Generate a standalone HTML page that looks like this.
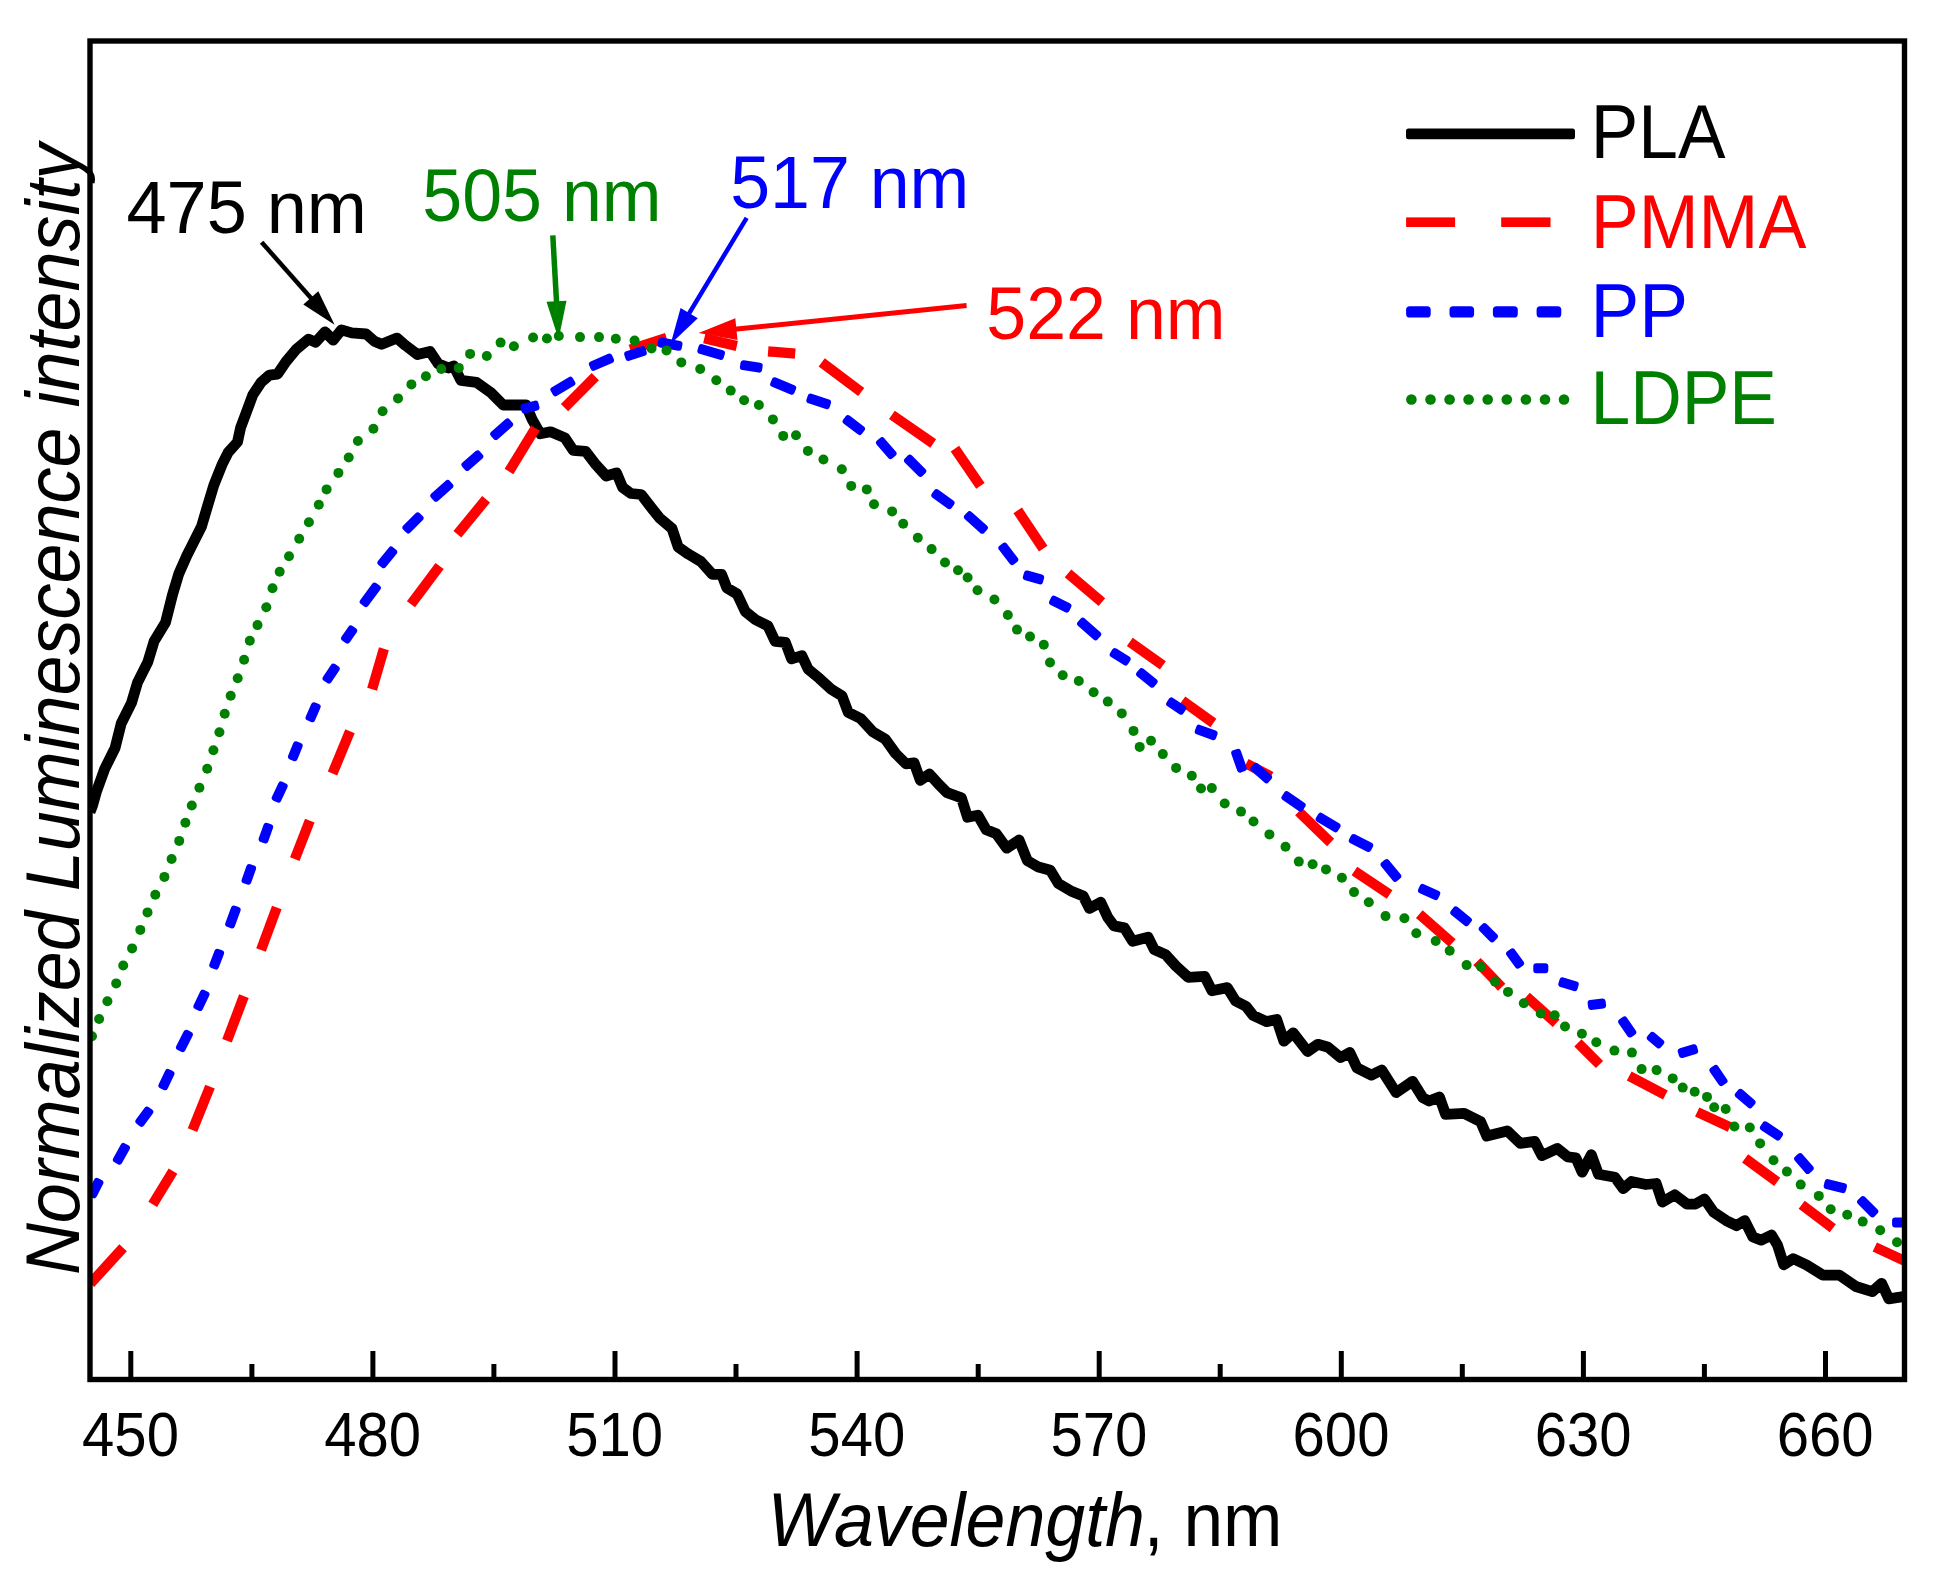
<!DOCTYPE html>
<html lang="en"><head><meta charset="utf-8"><title>Normalized luminescence intensity vs wavelength</title>
<style>html,body{margin:0;padding:0;background:#fff}body{width:1946px;height:1579px;overflow:hidden}svg{display:block}text{font-family:"Liberation Sans",Arial,sans-serif}</style>
</head><body>
<svg width="1946" height="1579" viewBox="0 0 1946 1579">
<rect width="1946" height="1579" fill="#fff"/>
<defs><clipPath id="plot"><rect x="90" y="41" width="1814.5" height="1338.5"/></clipPath><filter id="soft" filterUnits="userSpaceOnUse" x="0" y="0" width="1946" height="1579"><feGaussianBlur stdDeviation="0.7"/></filter></defs>
<g filter="url(#soft)">
<g clip-path="url(#plot)">
<polyline fill="none" stroke="#000" stroke-width="10.8" stroke-linejoin="round" stroke-linecap="butt" points="90,812 92.4,805.9 96.5,791.5 104.7,768.8 115,748.2 121.2,723.5 131.5,702.9 137.6,682.3 147.9,661.8 154.1,641.2 165.5,622.5 172.6,594.4 178.8,573.8 187,555.3 201.5,526.5 207.6,505.9 213.8,485.3 222,464.7 228.2,452.3 237.5,442 240.6,427.6 246.8,411.2 252.9,394.7 261.2,382.3 269.4,375.1 277.6,374.1 285.9,361.8 296.2,349.4 308.5,339.1 315.7,342.2 325,331.9 333.2,340.1 341.4,329.9 351.7,332.9 366.2,334 374.4,341.2 381.6,344.3 397,338.1 405.3,345.3 417.6,354.6 430,351.5 438.2,363.8 448.5,368 453.7,365.9 460.9,380.3 476.5,382.3 490.9,392.6 503.2,405 525.9,405 532.1,419.4 540.3,433.8 550.6,431.8 565,437.9 573.2,450.3 585.6,451.3 595.9,464.7 606.2,476 616.5,472.9 622.6,487.3 630.9,493.5 641.2,494.5 651.5,507.9 659.7,518.2 672,528.5 678.2,547 688.5,554.2 700.9,561.5 712.4,574.4 721.6,574.4 726.8,587.8 737.1,594 745.3,611.5 755.6,619.7 767.9,625.9 775.1,641.3 785.4,642.3 791.6,658.8 801.9,655.7 808.1,669.1 819.4,678.4 831.8,689.7 842,695.9 848.2,712.3 860.6,718.5 872.9,731.9 885.3,739.1 895.6,753.5 905.9,763.8 914.1,762.8 920.3,780.3 929.5,774.1 938.8,784.4 947,792.6 961.4,797.8 967.6,817.3 977.9,815.3 986.2,829.7 996.4,833.8 1006.7,848.2 1019.1,840 1027.3,860.6 1037.6,866.7 1050.3,870.3 1058.5,883.7 1070.9,890.9 1083.2,896 1089.4,908.4 1100.7,902.2 1107.9,917.6 1114.1,925.9 1124.4,927.9 1132.6,941.3 1148.1,937.2 1154.3,949.6 1165.6,954.7 1175.9,966 1188.2,977.3 1204.7,976.3 1211.9,990.7 1227.3,987.6 1235.6,1001 1245.9,1006.2 1253.1,1015.4 1266.5,1021.6 1276.7,1019.5 1283.9,1041.2 1293.2,1032.9 1307.6,1051.5 1317.9,1044.3 1328.2,1047.3 1340.6,1057.6 1349.8,1052.5 1357,1067.9 1371.4,1075.1 1381.7,1070 1396.1,1092.6 1412.6,1081.3 1422.9,1097.8 1429.1,1101 1439.4,1096.9 1445.6,1114.4 1464.1,1113.4 1480.6,1121.6 1486.8,1136 1507.3,1130.9 1520.3,1143.4 1534.7,1141.3 1541.9,1155.7 1557.3,1148.5 1567.6,1156.8 1575.9,1157.8 1582.1,1172.2 1591.3,1154.7 1598.5,1174.3 1615,1177.3 1623.2,1188.7 1631.5,1181.5 1645.9,1184.5 1656.2,1183.5 1662.3,1202 1674.7,1194.8 1687,1204.1 1695.3,1204.1 1704.5,1199 1713.8,1212.3 1726.2,1220.6 1736.5,1225.7 1744.7,1220.6 1752.9,1237 1761.2,1240.1 1771.5,1235 1777.6,1245.3 1783.8,1264.8 1793.1,1258.7 1806.4,1264.8 1822.9,1275.1 1839.4,1275.1 1855.9,1286.5 1872.3,1291.6 1881.6,1283.4 1888.8,1298.8 1903.2,1296.7"/>
<g stroke="#ff0000" stroke-width="10.2" stroke-linecap="butt">
<line x1="90.4" y1="1283.5" x2="123.1" y2="1247.7"/>
<line x1="152.7" y1="1204.3" x2="173" y2="1171.1"/>
<line x1="192.5" y1="1130.1" x2="210" y2="1086.7"/>
<line x1="227" y1="1040.7" x2="243.9" y2="996.1"/>
<line x1="261" y1="950.1" x2="276.8" y2="907.5"/>
<line x1="294.8" y1="859.1" x2="309.8" y2="820.6"/>
<line x1="332.5" y1="773.5" x2="350" y2="731.2"/>
<line x1="372.1" y1="689.2" x2="383.9" y2="648.7"/>
<line x1="411" y1="604.3" x2="439.6" y2="566"/>
<line x1="457.4" y1="534.2" x2="486.1" y2="499.2"/>
<line x1="509" y1="471.5" x2="535.5" y2="428.1"/>
<line x1="564.5" y1="407.6" x2="595.3" y2="376.7"/>
<line x1="630.2" y1="349.6" x2="666.6" y2="337.9"/>
<line x1="704.3" y1="338.3" x2="736.8" y2="346"/>
<line x1="768.1" y1="351.4" x2="795.2" y2="353.6"/>
<line x1="821.7" y1="362.4" x2="861.2" y2="392"/>
<line x1="891.9" y1="414.9" x2="933.2" y2="443.5"/>
<line x1="954.9" y1="448.7" x2="980.4" y2="485.9"/>
<line x1="1017.7" y1="510.4" x2="1043.2" y2="548.7"/>
<line x1="1068" y1="573.3" x2="1101.9" y2="602.1"/>
<line x1="1129.8" y1="641.9" x2="1162.9" y2="665.4"/>
<line x1="1182.3" y1="700.6" x2="1213.4" y2="723"/>
<line x1="1246.2" y1="763.5" x2="1271" y2="776.5"/>
<line x1="1298.7" y1="811.7" x2="1330.6" y2="842.5"/>
<line x1="1354.4" y1="871.1" x2="1389.6" y2="894.5"/>
<line x1="1419.3" y1="914.2" x2="1452.3" y2="943"/>
<line x1="1477" y1="961.5" x2="1501.7" y2="987.3"/>
<line x1="1526.4" y1="996.5" x2="1556.2" y2="1023.3"/>
<line x1="1577.9" y1="1042.9" x2="1599.5" y2="1064.5"/>
<line x1="1629.2" y1="1076" x2="1665.4" y2="1095.1"/>
<line x1="1697.2" y1="1112" x2="1729.9" y2="1127.2"/>
<line x1="1745.1" y1="1158.4" x2="1777.2" y2="1181.9"/>
<line x1="1801.7" y1="1204.7" x2="1832.8" y2="1228.2"/>
<line x1="1874.8" y1="1247" x2="1904.8" y2="1261"/>
</g>
<g fill="#0000ff">
<rect x="85.5" y="1183.2" width="20" height="10" rx="3" transform="rotate(-63.2 95.4 1188.2)"/>
<rect x="110.6" y="1148.8" width="21.6" height="10" rx="3" transform="rotate(-61 121.4 1153.8)"/>
<rect x="134" y="1111.7" width="20.7" height="10" rx="3" transform="rotate(-53.7 144.3 1116.7)"/>
<rect x="156" y="1074.7" width="21" height="10" rx="3" transform="rotate(-64.6 166.4 1079.7)"/>
<rect x="173.3" y="1036" width="22.3" height="10" rx="3" transform="rotate(-63.3 184.4 1041)"/>
<rect x="191" y="995.4" width="21" height="10" rx="3" transform="rotate(-64.6 201.4 1000.4)"/>
<rect x="206.5" y="954.1" width="20.3" height="10" rx="3" transform="rotate(-69.3 216.7 959.1)"/>
<rect x="221.7" y="912" width="22.5" height="10" rx="3" transform="rotate(-69.8 232.9 917)"/>
<rect x="238.7" y="869.4" width="20.2" height="10" rx="3" transform="rotate(-70.5 248.8 874.4)"/>
<rect x="255.8" y="828.1" width="20.2" height="10" rx="3" transform="rotate(-70.5 265.9 833.1)"/>
<rect x="269.2" y="787" width="20.9" height="10" rx="3" transform="rotate(-64.9 279.7 792)"/>
<rect x="285.7" y="746.3" width="19.3" height="10" rx="3" transform="rotate(-68.1 295.3 751.3)"/>
<rect x="303.3" y="707.2" width="19.5" height="10" rx="3" transform="rotate(-66.3 313.1 712.2)"/>
<rect x="321.1" y="668.6" width="20.1" height="10" rx="3" transform="rotate(-56.2 331.1 673.6)"/>
<rect x="340.2" y="629.5" width="17.9" height="10" rx="3" transform="rotate(-55.2 349.1 634.5)"/>
<rect x="357.3" y="589.9" width="26" height="10" rx="3" transform="rotate(-53.5 370.2 594.9)"/>
<rect x="375.9" y="552.4" width="22.9" height="10" rx="3" transform="rotate(-50.9 387.3 557.4)"/>
<rect x="401.3" y="517.9" width="23.4" height="10" rx="3" transform="rotate(-45.2 413 522.9)"/>
<rect x="429.3" y="485.9" width="25.1" height="10" rx="3" transform="rotate(-41.4 441.8 490.9)"/>
<rect x="460.6" y="455.6" width="23.5" height="10" rx="3" transform="rotate(-41.1 472.4 460.6)"/>
<rect x="489.2" y="424.2" width="24.9" height="10" rx="3" transform="rotate(-41.3 501.6 429.2)"/>
<rect x="520.7" y="402.1" width="18.5" height="10" rx="3" transform="rotate(-14 530 407.1)"/>
<rect x="550.1" y="381.5" width="25.6" height="10" rx="3" transform="rotate(-30.8 562.9 386.5)"/>
<rect x="588.9" y="357.2" width="25.1" height="10" rx="3" transform="rotate(-23.3 601.5 362.2)"/>
<rect x="624.4" y="348.5" width="22.2" height="10" rx="3" transform="rotate(-17.6 635.5 353.5)"/>
<rect x="657.7" y="339.2" width="24.6" height="10" rx="3" transform="rotate(10.3 670 344.2)"/>
<rect x="697.5" y="347" width="27.3" height="10" rx="3" transform="rotate(16.3 711.1 352)"/>
<rect x="740.1" y="361.4" width="22.4" height="10" rx="3" transform="rotate(8.6 751.3 366.4)"/>
<rect x="770.2" y="381" width="26" height="10" rx="3" transform="rotate(22.4 783.2 386)"/>
<rect x="806.5" y="396.4" width="24.4" height="10" rx="3" transform="rotate(18.4 818.7 401.4)"/>
<rect x="842" y="420.1" width="23.6" height="10" rx="3" transform="rotate(37.4 853.9 425.1)"/>
<rect x="874.5" y="443.2" width="23.5" height="10" rx="3" transform="rotate(48.9 886.3 448.2)"/>
<rect x="902.7" y="460.8" width="24.9" height="10" rx="3" transform="rotate(45 915.1 465.8)"/>
<rect x="930.7" y="494.2" width="24.4" height="10" rx="3" transform="rotate(35.9 943 499.2)"/>
<rect x="962.7" y="517.4" width="26.4" height="10" rx="3" transform="rotate(41.7 975.9 522.4)"/>
<rect x="996.5" y="548.8" width="23.6" height="10" rx="3" transform="rotate(52.6 1008.3 553.8)"/>
<rect x="1023.1" y="572.4" width="20.8" height="10" rx="3" transform="rotate(15.7 1033.5 577.4)"/>
<rect x="1049.1" y="599.1" width="22.3" height="10" rx="3" transform="rotate(26.7 1060.2 604.1)"/>
<rect x="1075.9" y="624" width="26.5" height="10" rx="3" transform="rotate(41.4 1089.2 629)"/>
<rect x="1109.6" y="651.8" width="21.1" height="10" rx="3" transform="rotate(32 1120.2 656.8)"/>
<rect x="1135.5" y="672.9" width="22.7" height="10" rx="3" transform="rotate(39 1146.9 677.9)"/>
<rect x="1166.1" y="701.1" width="20.2" height="10" rx="3" transform="rotate(33.6 1176.2 706.1)"/>
<rect x="1194.9" y="727.4" width="22.5" height="10" rx="3" transform="rotate(20.2 1206.1 732.4)"/>
<rect x="1227.3" y="755.7" width="23.4" height="10" rx="3" transform="rotate(70.7 1239 760.7)"/>
<rect x="1249.4" y="768.1" width="23.5" height="10" rx="3" transform="rotate(41.1 1261.2 773.1)"/>
<rect x="1280.9" y="796.4" width="25.3" height="10" rx="3" transform="rotate(34.4 1293.6 801.4)"/>
<rect x="1315.3" y="817.5" width="25.6" height="10" rx="3" transform="rotate(31 1328.1 822.5)"/>
<rect x="1348.7" y="838" width="24.6" height="10" rx="3" transform="rotate(26.6 1361 843)"/>
<rect x="1378.8" y="865.4" width="24.3" height="10" rx="3" transform="rotate(50.6 1390.9 870.4)"/>
<rect x="1418.1" y="887" width="22" height="10" rx="3" transform="rotate(24 1429.1 892)"/>
<rect x="1449.7" y="911.2" width="22.8" height="10" rx="3" transform="rotate(38.9 1461 916.2)"/>
<rect x="1478" y="927.7" width="20.6" height="10" rx="3" transform="rotate(45 1488.3 932.7)"/>
<rect x="1504.7" y="953.5" width="20.8" height="10" rx="3" transform="rotate(53.9 1515.1 958.5)"/>
<rect x="1533.3" y="963.2" width="15" height="10" rx="3" transform="rotate(0 1540.8 968.2)"/>
<rect x="1558.6" y="979.2" width="19.9" height="10" rx="3" transform="rotate(16.5 1568.5 984.2)"/>
<rect x="1587.8" y="999.2" width="18.1" height="10" rx="3" transform="rotate(-7.3 1596.9 1004.2)"/>
<rect x="1616.5" y="1021.9" width="21.5" height="10" rx="3" transform="rotate(55.4 1627.2 1026.9)"/>
<rect x="1646.7" y="1035.2" width="17.6" height="10" rx="3" transform="rotate(39.9 1655.6 1040.2)"/>
<rect x="1678" y="1046.1" width="19.9" height="10" rx="3" transform="rotate(-16.5 1688 1051.1)"/>
<rect x="1707.7" y="1070.5" width="21.6" height="10" rx="3" transform="rotate(55.6 1718.4 1075.5)"/>
<rect x="1734.2" y="1093.6" width="22" height="10" rx="3" transform="rotate(41 1745.2 1098.6)"/>
<rect x="1759.5" y="1126" width="23.9" height="10" rx="3" transform="rotate(33.8 1771.5 1131)"/>
<rect x="1792.9" y="1158.5" width="22.1" height="10" rx="3" transform="rotate(49.2 1803.9 1163.5)"/>
<rect x="1823.9" y="1181.1" width="22.8" height="10" rx="3" transform="rotate(14.2 1835.3 1186.1)"/>
<rect x="1856" y="1201.7" width="23.4" height="10" rx="3" transform="rotate(45 1867.7 1206.7)"/>
<rect x="1892.1" y="1217.6" width="12.9" height="10" rx="3" transform="rotate(0 1898.6 1222.6)"/>
</g>
<g fill="#008000">
<circle cx="92" cy="1036.3" r="5"/>
<circle cx="99.1" cy="1019" r="5"/>
<circle cx="107.4" cy="1001.3" r="5"/>
<circle cx="116.2" cy="983.4" r="5"/>
<circle cx="123.2" cy="965.5" r="5"/>
<circle cx="132.1" cy="948.4" r="5"/>
<circle cx="140.3" cy="929.9" r="5"/>
<circle cx="147.5" cy="912.4" r="5"/>
<circle cx="155.3" cy="894.8" r="5"/>
<circle cx="164.4" cy="876.9" r="5"/>
<circle cx="171.6" cy="859" r="5"/>
<circle cx="179.2" cy="840.9" r="5"/>
<circle cx="185.4" cy="822.7" r="5"/>
<circle cx="191.8" cy="805.5" r="5"/>
<circle cx="199.4" cy="787.8" r="5"/>
<circle cx="207.2" cy="768.8" r="5"/>
<circle cx="213.4" cy="750.3" r="5"/>
<circle cx="219.4" cy="732.2" r="5"/>
<circle cx="224.7" cy="713.8" r="5"/>
<circle cx="230.7" cy="695.7" r="5"/>
<circle cx="237.7" cy="678.2" r="5"/>
<circle cx="244.1" cy="659.7" r="5"/>
<circle cx="249.8" cy="640.8" r="5"/>
<circle cx="257.5" cy="625.1" r="5"/>
<circle cx="266.3" cy="607.2" r="5"/>
<circle cx="272.5" cy="588.2" r="5"/>
<circle cx="279.7" cy="571.7" r="5"/>
<circle cx="289" cy="556.3" r="5"/>
<circle cx="299.2" cy="538.8" r="5"/>
<circle cx="308.9" cy="522.3" r="5"/>
<circle cx="318.8" cy="504.8" r="5"/>
<circle cx="326.6" cy="489.4" r="5"/>
<circle cx="338.4" cy="472.9" r="5"/>
<circle cx="348.7" cy="457.5" r="5"/>
<circle cx="357.9" cy="441" r="5"/>
<circle cx="373.4" cy="428.7" r="5"/>
<circle cx="382.6" cy="411.2" r="5"/>
<circle cx="398" cy="398.4" r="5"/>
<circle cx="411.4" cy="384.4" r="5"/>
<circle cx="425.9" cy="376.2" r="5"/>
<circle cx="441.3" cy="369" r="5"/>
<circle cx="458.8" cy="367.9" r="5"/>
<circle cx="470.1" cy="353.9" r="5"/>
<circle cx="486.8" cy="356" r="5"/>
<circle cx="500.6" cy="342.6" r="5"/>
<circle cx="513.9" cy="346.3" r="5"/>
<circle cx="533.1" cy="337.5" r="5"/>
<circle cx="546.9" cy="338.5" r="5"/>
<circle cx="558.8" cy="336" r="5"/>
<circle cx="580" cy="337.1" r="5"/>
<circle cx="599" cy="337.1" r="5"/>
<circle cx="615.8" cy="338.7" r="5"/>
<circle cx="634.6" cy="340.6" r="5"/>
<circle cx="651.5" cy="348.4" r="5"/>
<circle cx="666.5" cy="350.4" r="5"/>
<circle cx="681.3" cy="362.4" r="5"/>
<circle cx="700.2" cy="369" r="5"/>
<circle cx="716.3" cy="380.3" r="5"/>
<circle cx="730.7" cy="390.6" r="5"/>
<circle cx="744.1" cy="400.3" r="5"/>
<circle cx="758.9" cy="405" r="5"/>
<circle cx="772.9" cy="419.4" r="5"/>
<circle cx="783.2" cy="435.9" r="5"/>
<circle cx="796" cy="435.3" r="5"/>
<circle cx="807.9" cy="450.9" r="5"/>
<circle cx="823.4" cy="459.5" r="5"/>
<circle cx="841.8" cy="469.2" r="5"/>
<circle cx="851.2" cy="485.9" r="5"/>
<circle cx="866.8" cy="489.4" r="5"/>
<circle cx="874" cy="504.2" r="5"/>
<circle cx="892.1" cy="511.4" r="5"/>
<circle cx="903.2" cy="523.8" r="5"/>
<circle cx="917.8" cy="537.8" r="5"/>
<circle cx="931.6" cy="549.1" r="5"/>
<circle cx="945" cy="562.5" r="5"/>
<circle cx="958" cy="570.3" r="5"/>
<circle cx="967.6" cy="577.5" r="5"/>
<circle cx="977.5" cy="590.3" r="5"/>
<circle cx="994.4" cy="599.5" r="5"/>
<circle cx="1007.8" cy="615" r="5"/>
<circle cx="1017" cy="629.6" r="5"/>
<circle cx="1030" cy="636.6" r="5"/>
<circle cx="1043.8" cy="644.8" r="5"/>
<circle cx="1050" cy="662.5" r="5"/>
<circle cx="1062.7" cy="675.3" r="5"/>
<circle cx="1078.8" cy="681" r="5"/>
<circle cx="1093.6" cy="692.2" r="5"/>
<circle cx="1107.8" cy="701.6" r="5"/>
<circle cx="1121.8" cy="713.4" r="5"/>
<circle cx="1133.5" cy="730.9" r="5"/>
<circle cx="1139.7" cy="746.9" r="5"/>
<circle cx="1151" cy="740.8" r="5"/>
<circle cx="1162.8" cy="754.1" r="5"/>
<circle cx="1176.1" cy="767.9" r="5"/>
<circle cx="1191.8" cy="775.7" r="5"/>
<circle cx="1201" cy="788.5" r="5"/>
<circle cx="1211.8" cy="788.1" r="5"/>
<circle cx="1224.7" cy="803.5" r="5"/>
<circle cx="1241" cy="811.6" r="5"/>
<circle cx="1253.5" cy="821.5" r="5"/>
<circle cx="1269.4" cy="834.4" r="5"/>
<circle cx="1285.5" cy="846.8" r="5"/>
<circle cx="1298.8" cy="861.6" r="5"/>
<circle cx="1312.6" cy="864.3" r="5"/>
<circle cx="1326" cy="869.4" r="5"/>
<circle cx="1341.9" cy="877.7" r="5"/>
<circle cx="1354" cy="892.1" r="5"/>
<circle cx="1368.8" cy="902.3" r="5"/>
<circle cx="1385.5" cy="916.1" r="5"/>
<circle cx="1404.4" cy="918.2" r="5"/>
<circle cx="1416.3" cy="933.2" r="5"/>
<circle cx="1435.7" cy="941" r="5"/>
<circle cx="1449.7" cy="950.7" r="5"/>
<circle cx="1466.6" cy="965.1" r="5"/>
<circle cx="1481" cy="966.8" r="5"/>
<circle cx="1495" cy="981.6" r="5"/>
<circle cx="1508" cy="991.9" r="5"/>
<circle cx="1523.8" cy="1003.2" r="5"/>
<circle cx="1540.7" cy="1013.5" r="5"/>
<circle cx="1554.7" cy="1015.2" r="5"/>
<circle cx="1565" cy="1026.5" r="5"/>
<circle cx="1581.9" cy="1033.7" r="5"/>
<circle cx="1596.3" cy="1042.3" r="5"/>
<circle cx="1614.4" cy="1050.6" r="5"/>
<circle cx="1631.9" cy="1052.6" r="5"/>
<circle cx="1641.6" cy="1069.1" r="5"/>
<circle cx="1656.6" cy="1070.1" r="5"/>
<circle cx="1672.7" cy="1078.4" r="5"/>
<circle cx="1682.7" cy="1087.6" r="5"/>
<circle cx="1694.7" cy="1091.7" r="5"/>
<circle cx="1707" cy="1096.9" r="5"/>
<circle cx="1714.2" cy="1107.2" r="5"/>
<circle cx="1725.7" cy="1109" r="5"/>
<circle cx="1734.4" cy="1126.5" r="5"/>
<circle cx="1749.8" cy="1127.5" r="5"/>
<circle cx="1760.1" cy="1143.4" r="5"/>
<circle cx="1773.5" cy="1160.3" r="5"/>
<circle cx="1786.9" cy="1171.6" r="5"/>
<circle cx="1800.7" cy="1184.6" r="5"/>
<circle cx="1818.8" cy="1195.9" r="5"/>
<circle cx="1830.7" cy="1209.3" r="5"/>
<circle cx="1847.2" cy="1214.8" r="5"/>
<circle cx="1862.7" cy="1221.6" r="5"/>
<circle cx="1880.2" cy="1230.3" r="5"/>
<circle cx="1897" cy="1242.2" r="5"/>
</g>
</g>
<line x1="261.6" y1="242.2" x2="312.1" y2="299.3" stroke="#000" stroke-width="4.5"/>
<polygon fill="#000" points="334.6,324.8 303.3,304.4 318.3,291.2"/>
<line x1="552.8" y1="235.4" x2="556.6" y2="303.3" stroke="#008000" stroke-width="5.5"/>
<polygon fill="#008000" points="558.6,339.2 546.5,301.8 566.5,300.7"/>
<line x1="746.7" y1="217.8" x2="688.2" y2="314.9" stroke="#0000ff" stroke-width="4.5"/>
<polygon fill="#0000ff" points="670.6,344 680.6,308 697.8,318.3"/>
<line x1="966.6" y1="305.5" x2="734.4" y2="329.3" stroke="#ff0000" stroke-width="5"/>
<polygon fill="#ff0000" points="698.6,333 735.3,318.2 737.5,340.1"/>
<rect x="90" y="41" width="1814.5" height="1338.5" fill="none" stroke="#000" stroke-width="5.4"/>
<g stroke="#000" stroke-width="5">
<line x1="130.8" y1="1379" x2="130.8" y2="1351"/>
<line x1="372.9" y1="1379" x2="372.9" y2="1351"/>
<line x1="615" y1="1379" x2="615" y2="1351"/>
<line x1="857.1" y1="1379" x2="857.1" y2="1351"/>
<line x1="1099.2" y1="1379" x2="1099.2" y2="1351"/>
<line x1="1341.3" y1="1379" x2="1341.3" y2="1351"/>
<line x1="1583.4" y1="1379" x2="1583.4" y2="1351"/>
<line x1="1825.5" y1="1379" x2="1825.5" y2="1351"/>
<line x1="251.9" y1="1379" x2="251.9" y2="1364"/>
<line x1="493.9" y1="1379" x2="493.9" y2="1364"/>
<line x1="736" y1="1379" x2="736" y2="1364"/>
<line x1="978.2" y1="1379" x2="978.2" y2="1364"/>
<line x1="1220.2" y1="1379" x2="1220.2" y2="1364"/>
<line x1="1462.3" y1="1379" x2="1462.3" y2="1364"/>
<line x1="1704.4" y1="1379" x2="1704.4" y2="1364"/>
</g>
<text transform="translate(130.5,1456) scale(0.9251,1)" font-size="62.8" text-anchor="middle" fill="#000">450</text>
<text transform="translate(372.6,1456) scale(0.9251,1)" font-size="62.8" text-anchor="middle" fill="#000">480</text>
<text transform="translate(614.7,1456) scale(0.9251,1)" font-size="62.8" text-anchor="middle" fill="#000">510</text>
<text transform="translate(856.8,1456) scale(0.9251,1)" font-size="62.8" text-anchor="middle" fill="#000">540</text>
<text transform="translate(1098.9,1456) scale(0.9251,1)" font-size="62.8" text-anchor="middle" fill="#000">570</text>
<text transform="translate(1341,1456) scale(0.9251,1)" font-size="62.8" text-anchor="middle" fill="#000">600</text>
<text transform="translate(1583.1,1456) scale(0.9251,1)" font-size="62.8" text-anchor="middle" fill="#000">630</text>
<text transform="translate(1825.2,1456) scale(0.9251,1)" font-size="62.8" text-anchor="middle" fill="#000">660</text>
<text transform="translate(767.6,1546.3) scale(0.9436,1)" font-size="76" fill="#000" font-style="italic">Wavelength</text>
<text transform="translate(1143.8,1546.3) scale(0.9387,1)" font-size="76" fill="#000">, nm</text>
<text transform="translate(79.1,1275.1) rotate(-90) scale(0.9480,1)" font-size="75.9" fill="#000" font-style="italic">Normalized Luminescence intensity</text>
<text transform="translate(126.5,232.8) scale(0.9819,1)" font-size="73.4" fill="#000">475 nm</text>
<text transform="translate(422.3,221.2) scale(0.9643,1)" font-size="74.4" fill="#008000">505 nm</text>
<text transform="translate(730.2,207.5) scale(0.9639,1)" font-size="74.4" fill="#0000ff">517 nm</text>
<text transform="translate(986.3,339.1) scale(0.9643,1)" font-size="74.4" fill="#ff0000">522 nm</text>
<rect x="1406" y="128.5" width="169" height="10.8" rx="2.5" fill="#000"/>
<rect x="1406.1" y="217.4" width="49" height="9.6" fill="#ff0000"/>
<rect x="1501.2" y="217.4" width="49.3" height="9.6" fill="#ff0000"/>
<rect x="1406.1" y="306.2" width="24.6" height="11.3" rx="3.6" fill="#0000ff"/>
<rect x="1449.5" y="306.2" width="24.6" height="11.3" rx="3.6" fill="#0000ff"/>
<rect x="1492.9" y="306.2" width="24.9" height="11.3" rx="3.6" fill="#0000ff"/>
<rect x="1536.6" y="306.2" width="24.7" height="11.3" rx="3.6" fill="#0000ff"/>
<g fill="#008000">
<circle cx="1411.4" cy="399.5" r="5.3"/>
<circle cx="1430.5" cy="399.5" r="5.3"/>
<circle cx="1449.6" cy="399.5" r="5.3"/>
<circle cx="1468.6" cy="399.5" r="5.3"/>
<circle cx="1487.7" cy="399.5" r="5.3"/>
<circle cx="1506.8" cy="399.5" r="5.3"/>
<circle cx="1525.9" cy="399.5" r="5.3"/>
<circle cx="1545" cy="399.5" r="5.3"/>
<circle cx="1564" cy="399.5" r="5.3"/>
</g>
<text transform="translate(1590.7,158.4) scale(0.9429,1)" font-size="75.6" fill="#000">PLA</text>
<text transform="translate(1590.8,247.7) scale(0.9506,1)" font-size="75.6" fill="#ff0000">PMMA</text>
<text transform="translate(1590.4,336.8) scale(0.9669,1)" font-size="75.6" fill="#0000ff">PP</text>
<text transform="translate(1590.5,424) scale(0.9444,1)" font-size="75.6" fill="#008000">LDPE</text>
</g>
</svg></body></html>
